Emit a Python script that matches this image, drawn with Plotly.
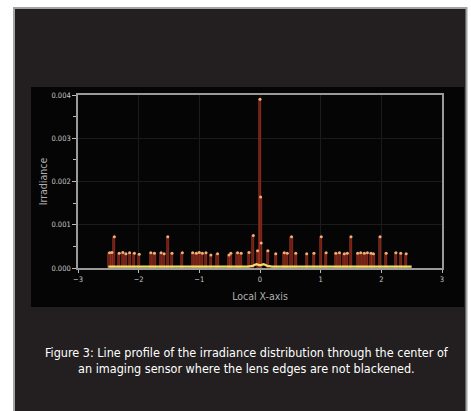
import plotly.graph_objects as go

# ---- data ----
spike_x = [-2.48, -2.44, -2.40, -2.32, -2.26, -2.21, -2.15, -2.07, -1.99,
           -1.80, -1.74, -1.63, -1.58, -1.52, -1.45, -1.28, -1.11, -1.05,
           -1.00, -0.95, -0.89, -0.81, -0.70, -0.51, -0.48, -0.37, -0.31,
           -0.18, -0.11, -0.04, 0.00, 0.01, 0.02, 0.13, 0.26, 0.40, 0.45,
           0.52, 0.59, 0.77, 0.89, 1.01, 1.09, 1.25, 1.31, 1.39, 1.44, 1.50,
           1.61, 1.66, 1.72, 1.77, 1.83, 1.87, 1.98, 2.08, 2.24, 2.32, 2.41]
spike_y = [0.00035, 0.00036, 0.00072, 0.00034, 0.00036, 0.00033, 0.00035, 0.00034, 0.00032,
           0.00035, 0.00034, 0.00035, 0.00033, 0.00072, 0.00034, 0.00035, 0.00035, 0.00034,
           0.00036, 0.00034, 0.00035, 0.00030, 0.00033, 0.00030, 0.00034, 0.00035, 0.00034,
           0.00036, 0.00075, 0.00040, 0.00390, 0.00164, 0.00058, 0.00040, 0.00033, 0.00035, 0.00034,
           0.00072, 0.00034, 0.00033, 0.00034, 0.00072, 0.00035, 0.00034, 0.00035, 0.00033, 0.00034, 0.00072,
           0.00034, 0.00035, 0.00034, 0.00035, 0.00034, 0.00033, 0.00072, 0.00034, 0.00035, 0.00034, 0.00033]

base_x = [-2.5, -0.2, -0.12, -0.06, 0.0, 0.06, 0.12, 0.2, 2.5]
base_y = [0.00003, 0.00003, 0.00005, 0.00009, 0.00006, 0.00009, 0.00005, 0.00003, 0.00003]

x_ticks = [-3, -2, -1, 0, 1, 2, 3]
y_ticks = [0.0, 0.001, 0.002, 0.003, 0.004]
y_tick_labels = ["0.000", "0.001", "0.002", "0.003", "0.004"]

caption = ("Figure 3: Line profile of the irradiance distribution through the center of"
           "<br>an imaging sensor where the lens edges are not blackened.")

# ---- figure ----
W, H = 471, 411
L, R, T, B = 78, 29, 95, 143
pw, ph = W - L - R, H - T - B


def px(x):
    return (x - L) / pw


def py(y):
    return (H - B - y) / ph


fig = go.Figure()
fig.add_trace(go.Bar(x=spike_x, y=spike_y, width=0.035,
                     marker=dict(color="#6a1e14", line=dict(color="#b03a26", width=0.6)),
                     showlegend=False, hoverinfo="skip"))
fig.add_trace(go.Scatter(x=spike_x, y=spike_y, mode="markers",
                         marker=dict(color="#eeb07a", size=3),
                         showlegend=False, hoverinfo="skip"))
fig.add_trace(go.Scatter(x=base_x, y=base_y, mode="lines",
                         line=dict(color="#f2df6a", width=2.2),
                         showlegend=False, hoverinfo="skip"))

font_c = "DejaVu Sans Condensed, Liberation Sans Narrow, sans-serif"

fig.update_layout(
    width=W, height=H,
    margin=dict(l=L, r=R, t=T, b=B),
    paper_bgcolor="white",
    plot_bgcolor="#050505",
    bargap=0,
    barmode="overlay",
    shapes=[
        dict(type="rect", xref="paper", yref="paper",
             x0=px(14), x1=px(466.5), y0=py(412), y1=py(8),
             fillcolor="#231f20", line=dict(color="#a3a3a3", width=2), layer="below"),
        dict(type="rect", xref="paper", yref="paper",
             x0=px(31), x1=px(464), y0=py(307), y1=py(87),
             fillcolor="#050505", line=dict(width=0), layer="below"),
    ],
    annotations=[
        dict(text=caption, xref="paper", yref="paper", x=px(247), y=py(360),
             xanchor="center", yanchor="middle", showarrow=False,
             font=dict(family="Liberation Sans Narrow, DejaVu Sans Condensed, sans-serif",
                       size=12.5, color="white")),
    ],
    xaxis=dict(range=[-3, 3], tickvals=x_ticks, ticks="outside", ticklen=3,
               tickcolor="#bbbbbb", showline=True, linecolor="#9a9a9a", linewidth=1.5,
               mirror=True, showgrid=True, gridcolor="#1b1b1b", zeroline=False,
               layer="below traces",
               tickfont=dict(family=font_c, size=7.5, color="#c8c8c8"),
               title=dict(text="Local X-axis", standoff=10,
                          font=dict(family=font_c, size=10.5, color="#b0b0b0"))),
    yaxis=dict(range=[0, 0.004], tickvals=y_ticks, ticktext=y_tick_labels,
               ticks="outside", ticklen=4, tickcolor="#bbbbbb",
               minor=dict(dtick=0.0005, ticks="outside", ticklen=3, tickcolor="#bbbbbb",
                          showgrid=False),
               showline=True, linecolor="#9a9a9a", linewidth=1.5, mirror=True,
               showgrid=True, gridcolor="#1b1b1b", zeroline=False,
               layer="below traces",
               tickfont=dict(family=font_c, size=7.5, color="#c8c8c8"),
               title=dict(text="Irradiance", standoff=2,
                          font=dict(family=font_c, size=10.5, color="#b0b0b0"))),
)

fig.write_html("out.html", config={"displayModeBar": False},
               post_script="document.body.style.margin='0';document.body.style.padding='0';")
